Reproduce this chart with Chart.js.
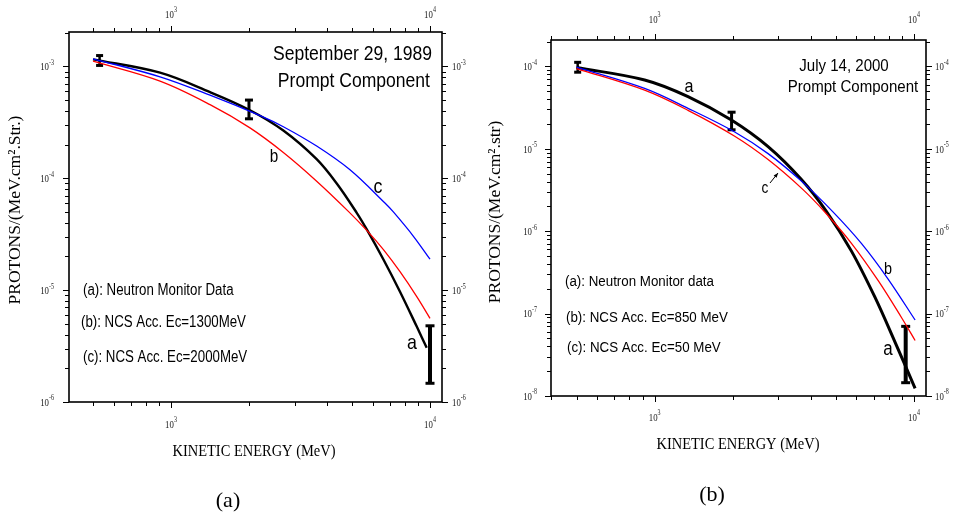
<!DOCTYPE html>
<html>
<head>
<meta charset="utf-8">
<script src="https://cdn.jsdelivr.net/npm/chart.js@4.4.0/dist/chart.umd.min.js"></script>
<style>
  html, body { margin: 0; padding: 0; background: #fff; }
  #wrap { position: relative; width: 961px; height: 517px; overflow: hidden; }
  canvas { position: absolute; top: 0; }
  #ca { left: 0; }
  #cb { left: 480px; }
</style>
</head>
<body>
<div id="wrap">
  <canvas id="ca" width="480" height="517"></canvas>
  <canvas id="cb" width="481" height="517"></canvas>
</div>
<script>
// ---- (a) September 29, 1989 ----
const A_NM_E   = [500, 907, 1415, 2018, 2715, 3651, 4365, 5213, 5700, 6610, 7660, 8890, 9710];
const A_NM_V   = [1.156e-3, 8.79e-4, 5.89e-4, 4.06e-4, 2.67e-4, 1.48e-4, 8.97e-5, 4.91e-5, 3.49e-5, 1.88e-5, 9.68e-6, 4.72e-6, 3.05e-6];
const A_RED_E  = [500, 907, 1415, 2018, 2715, 3651, 4840, 5700, 6610, 7660, 8890, 10000];
const A_RED_V  = [1.114e-3, 7.38e-4, 4.55e-4, 2.82e-4, 1.70e-4, 9.42e-5, 5.06e-5, 3.42e-5, 2.30e-5, 1.46e-5, 8.75e-6, 5.6e-6];
const A_BLUE_E = [500, 907, 1415, 2208, 2715, 3651, 4910, 6700, 7220, 8630, 10000];
const A_BLUE_V = [1.17e-3, 8.07e-4, 5.53e-4, 3.63e-4, 2.89e-4, 1.94e-4, 1.19e-4, 6.01e-5, 5.0e-5, 3.03e-5, 1.89e-5];
const A_ERR_E  = [530, 2000, 10000];
const A_ERR_LO = [1.02e-3, 3.4e-4, 1.47e-6];
const A_ERR_HI = [1.25e-3, 5.0e-4, 4.8e-6];

// ---- (b) July 14, 2000 ----
const B_NM_E   = [500, 915, 1345, 1977, 2738, 3681, 4600, 5740, 7070, 8450, 10100];
const B_NM_V   = [9.7e-5, 6.84e-5, 4.3e-5, 2.23e-5, 1.06e-5, 4.23e-6, 1.73e-6, 5.73e-7, 1.58e-7, 4.51e-8, 1.24e-8];
const B_RED_E  = [500, 915, 1345, 2036, 2738, 3681, 4530, 5740, 7280, 8960, 10100];
const B_RED_V  = [9.4e-5, 5.14e-5, 2.93e-5, 1.42e-5, 7.4e-6, 3.33e-6, 1.71e-6, 7.13e-7, 2.51e-7, 8.9e-8, 4.72e-8];
const B_BLUE_E = [500, 915, 1345, 2036, 2738, 3681, 4850, 6280, 7960, 10100];
const B_BLUE_V = [9.8e-5, 5.4e-5, 3.1e-5, 1.6e-5, 8.73e-6, 4.05e-6, 1.74e-6, 7.06e-7, 2.61e-7, 8.36e-8];
const B_ERR_E  = [505, 1980, 9290];
const B_ERR_LO = [8.5e-5, 1.7e-5, 1.45e-8];
const B_ERR_HI = [1.12e-4, 2.78e-5, 7.0e-8];

// axis ranges
const A_X = [403.8, 11126], A_Y = [1e-6, 2.03e-3];
const B_X = [398.5, 11126], B_Y = [1e-8, 2.09e-4];
const X_DECADES = [100, 1000, 10000];
const A_Y_DECADES = [1e-6, 1e-5, 1e-4, 1e-3];
const B_Y_DECADES = [1e-8, 1e-7, 1e-6, 1e-5, 1e-4];

const SANS = '"Liberation Sans", Arial, sans-serif';
const SERIF = '"Liberation Serif", "Times New Roman", serif';

const pts = (xs, ys) => xs.map((x, i) => ({ x, y: ys[i] }));

function drawTxt(ctx, s, x, y, o) {
  ctx.save();
  ctx.translate(x, y);
  if (o.rot) ctx.rotate(o.rot);
  ctx.scale(o.sx || 1, 1);
  ctx.font = o.font;
  ctx.fillStyle = o.color || '#000';
  ctx.textAlign = o.align || 'left';
  ctx.textBaseline = 'middle';
  ctx.fillText(s, 0, 0);
  ctx.restore();
}

// "10" with small raised exponent
function drawPow(ctx, exp, x, y, align) {
  const sx = 0.8, fb = '11px ' + SERIF, fs = '7.5px ' + SERIF;
  ctx.save();
  ctx.font = fb; const wb = ctx.measureText('10').width * sx;
  ctx.font = fs; const ws = ctx.measureText(String(exp)).width * sx;
  ctx.restore();
  let x0 = x;
  if (align === 'right') x0 = x - wb - ws;
  else if (align === 'center') x0 = x - (wb + ws) / 2;
  drawTxt(ctx, '10', x0, y, { font: fb, sx, color: '#222' });
  drawTxt(ctx, String(exp), x0 + wb, y - 4.5, { font: fs, sx, color: '#222' });
}

function frame(p) {
  return {
    id: 'frame',
    afterDatasetsDraw(chart) {
      const { ctx, chartArea: a, scales: { x, y } } = chart;
      ctx.save();
      ctx.strokeStyle = '#000';
      ctx.lineWidth = 1.6;
      ctx.strokeRect(a.left, a.top, a.right - a.left, a.bottom - a.top);
      ctx.lineWidth = 1;
      ctx.beginPath();
      for (const d of X_DECADES) for (let m = 1; m <= 9; m++) {
        const v = d * m;
        if (v < x.min || v > x.max) continue;
        const px = Math.round(x.getPixelForValue(v)) + 0.5, L = m === 1 ? 6 : 4;
        ctx.moveTo(px, a.top); ctx.lineTo(px, a.top - L);
        ctx.moveTo(px, a.bottom); ctx.lineTo(px, a.bottom + L);
      }
      for (const d of p.yDec) for (let m = 1; m <= 9; m++) {
        const v = d * m;
        if (v < y.min || v > y.max) continue;
        const py = Math.round(y.getPixelForValue(v)) + 0.5, L = m === 1 ? 6 : 4;
        ctx.moveTo(a.left, py); ctx.lineTo(a.left - L, py);
        ctx.moveTo(a.right, py); ctx.lineTo(a.right + L, py);
      }
      ctx.stroke();
      ctx.restore();

      for (const d of X_DECADES) {
        if (d < x.min || d > x.max) continue;
        const px = x.getPixelForValue(d), e = Math.round(Math.log10(d));
        drawPow(ctx, e, px, p.xLabTop, 'center');
        drawPow(ctx, e, px, p.xLabBot, 'center');
      }
      for (const d of p.yDec) {
        const py = y.getPixelForValue(d) + 1, e = Math.round(Math.log10(d));
        drawPow(ctx, e, p.yLabL, py, 'right');
        drawPow(ctx, e, p.yLabR, py, 'left');
      }
      for (const t of p.texts) drawTxt(ctx, t.s, t.x, t.y, t);
      if (p.arrow) {
        const [x1, y1, x2, y2] = p.arrow;
        const ang = Math.atan2(y2 - y1, x2 - x1);
        ctx.save();
        ctx.strokeStyle = '#000'; ctx.fillStyle = '#000'; ctx.lineWidth = 1;
        ctx.beginPath(); ctx.moveTo(x1, y1); ctx.lineTo(x2, y2); ctx.stroke();
        ctx.beginPath();
        ctx.moveTo(x2, y2);
        ctx.lineTo(x2 - 5 * Math.cos(ang - 0.4), y2 - 5 * Math.sin(ang - 0.4));
        ctx.lineTo(x2 - 5 * Math.cos(ang + 0.4), y2 - 5 * Math.sin(ang + 0.4));
        ctx.closePath(); ctx.fill();
        ctx.restore();
      }
    }
  };
}

function curve(xs, ys, color, w) {
  return { data: pts(xs, ys), borderColor: color, borderWidth: w, pointRadius: 0,
           tension: 0.35, fill: false };
}

function errBars(es, lo, hi, widths, caps) {
  return es.map((e, i) => ({
    data: [{ x: e, y: lo[i] }, { x: e, y: hi[i] }],
    borderColor: '#000', borderWidth: widths[i], tension: 0,
    pointStyle: 'line', pointRadius: caps[i], pointBorderWidth: 3,
    pointBorderColor: '#000', clip: false
  }));
}

function makePanel(id, p) {
  return new Chart(document.getElementById(id), {
    type: 'line',
    data: { datasets: p.datasets },
    options: {
      responsive: false, animation: false, events: [],
      layout: { padding: p.pad },
      plugins: { legend: { display: false }, tooltip: { enabled: false } },
      scales: {
        x: { type: 'logarithmic', min: p.xr[0], max: p.xr[1], display: false },
        y: { type: 'logarithmic', min: p.yr[0], max: p.yr[1], display: false }
      }
    },
    plugins: [frame(p)]
  });
}

makePanel('ca', {
  xr: A_X, yr: A_Y, yDec: A_Y_DECADES,
  pad: { left: 69, top: 32, right: 38, bottom: 115 },
  xLabTop: 15, xLabBot: 425, yLabL: 54, yLabR: 452,
  datasets: [
    curve(A_RED_E, A_RED_V, '#ff0000', 1.3),
    curve(A_BLUE_E, A_BLUE_V, '#0000ff', 1.3),
    curve(A_NM_E, A_NM_V, '#000', 2.4),
    ...errBars(A_ERR_E, A_ERR_LO, A_ERR_HI, [2.5, 3, 4], [3.5, 4, 4.5])
  ],
  texts: [
    { s: 'September 29, 1989', x: 432, y: 55, font: '19.5px ' + SANS, sx: 0.9, align: 'right' },
    { s: 'Prompt Component', x: 430, y: 82, font: '19.5px ' + SANS, sx: 0.9, align: 'right' },
    { s: '(a): Neutron Monitor Data', x: 83, y: 291, font: '16px ' + SANS, sx: 0.83 },
    { s: '(b): NCS Acc. Ec=1300MeV', x: 81, y: 323, font: '16px ' + SANS, sx: 0.83 },
    { s: '(c): NCS Acc. Ec=2000MeV', x: 83, y: 358, font: '16px ' + SANS, sx: 0.83 },
    { s: 'b', x: 274, y: 157, font: '18px ' + SANS, sx: 0.85, align: 'center' },
    { s: 'c', x: 378, y: 187, font: '21px ' + SANS, sx: 0.85, align: 'center' },
    { s: 'a', x: 412, y: 343, font: '21px ' + SANS, sx: 0.85, align: 'center' },
    { s: 'KINETIC ENERGY (MeV)', x: 254, y: 452, font: '17px ' + SERIF, sx: 0.85, align: 'center' },
    { s: '(a)', x: 228, y: 501, font: '22px ' + SERIF, align: 'center' },
    { s: 'PROTONS/(MeV.cm\u00b2.Str.)', x: 15, y: 210, font: '17.5px ' + SERIF, rot: -Math.PI / 2, align: 'center' }
  ]
});

makePanel('cb', {
  xr: B_X, yr: B_Y, yDec: B_Y_DECADES,
  pad: { left: 71, top: 40, right: 35, bottom: 121 },
  xLabTop: 20, xLabBot: 418, yLabL: 57, yLabR: 455,
  arrow: [290, 183, 298, 173],
  datasets: [
    curve(B_RED_E, B_RED_V, '#ff0000', 1.3),
    curve(B_BLUE_E, B_BLUE_V, '#0000ff', 1.3),
    curve(B_NM_E, B_NM_V, '#000', 3),
    ...errBars(B_ERR_E, B_ERR_LO, B_ERR_HI, [2.5, 3, 4], [3.5, 4, 4.5])
  ],
  texts: [
    { s: 'July 14, 2000', x: 364, y: 67, font: '16px ' + SANS, sx: 0.94, align: 'center' },
    { s: 'Prompt Component', x: 373, y: 88, font: '16px ' + SANS, sx: 0.94, align: 'center' },
    { s: '(a): Neutron Monitor data', x: 85, y: 282, font: '15.5px ' + SANS, sx: 0.86 },
    { s: '(b): NCS Acc. Ec=850 MeV', x: 86, y: 318, font: '15.5px ' + SANS, sx: 0.86 },
    { s: '(c): NCS Acc. Ec=50 MeV', x: 87, y: 348, font: '15.5px ' + SANS, sx: 0.86 },
    { s: 'a', x: 209, y: 87, font: '19px ' + SANS, sx: 0.85, align: 'center' },
    { s: 'c', x: 285, y: 189, font: '16px ' + SANS, sx: 0.85, align: 'center' },
    { s: 'b', x: 408, y: 269, font: '17px ' + SANS, sx: 0.85, align: 'center' },
    { s: 'a', x: 408, y: 349, font: '20px ' + SANS, sx: 0.85, align: 'center' },
    { s: 'KINETIC ENERGY (MeV)', x: 258, y: 445, font: '17px ' + SERIF, sx: 0.85, align: 'center' },
    { s: '(b)', x: 232, y: 495, font: '22px ' + SERIF, align: 'center' },
    { s: 'PROTONS/(MeV.cm\u00b2.str)', x: 15, y: 212, font: '17.5px ' + SERIF, rot: -Math.PI / 2, align: 'center' }
  ]
});
</script>
</body>
</html>
